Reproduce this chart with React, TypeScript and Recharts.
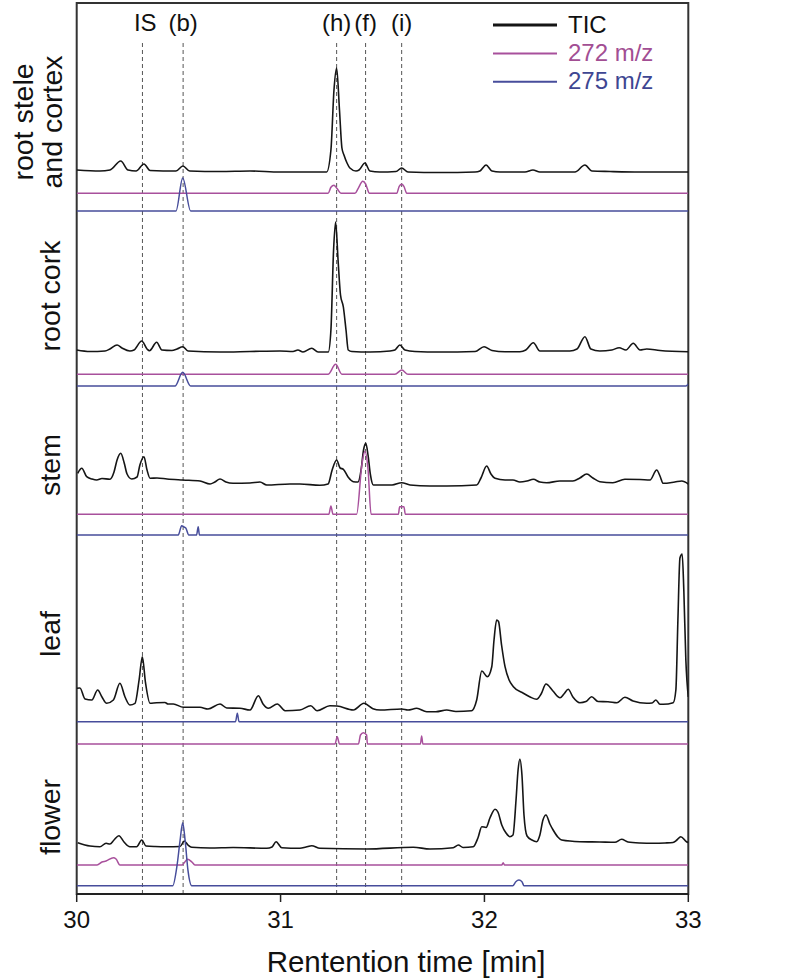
import React from 'react';
import { LineChart, Line, XAxis, YAxis, ReferenceLine, ReferenceArea, ReferenceDot } from 'recharts';

// retention time [min], intensity above trace baseline [a.u.]
const rootSteleTIC: [number, number][] = [
  [30.0, 1], [30.114, 0], [30.163, 1], [30.216, 10], [30.252, 1], [30.291, 0], [30.33, 7], [30.36, 0.5],
  [30.487, 0], [30.521, 5], [30.554, 0], [30.703, -0.5], [30.85, 0], [30.997, -1], [31.096, -1], [31.226, -1],
  [31.247, 21], [31.262, 81], [31.275, 103], [31.289, 61], [31.301, 23], [31.311, 16], [31.326, 8], [31.34, 3],
  [31.37, 0], [31.385, 1], [31.414, 8], [31.438, 0], [31.487, -1], [31.566, -0.5], [31.594, 3], [31.625, -1],
  [31.781, -1.5], [31.954, -1], [31.978, 0], [32.008, 6], [32.037, 0], [32.076, -1], [32.199, -1], [32.238, 1],
  [32.272, -1], [32.444, -1], [32.493, 6], [32.527, 0], [32.616, -0.5], [32.763, -1], [33.0, -1],
];
const rootStele272: [number, number][] = [
  [30.0, 0], [31.233, 0], [31.247, 6], [31.262, 8], [31.276, 5], [31.296, 0], [31.365, 0], [31.381, 5],
  [31.403, 12], [31.418, 9], [31.425, 5], [31.435, 0], [31.57, 0], [31.582, 7], [31.594, 9], [31.605, 7],
  [31.619, 0], [33.0, 0],
];
const rootStele275: [number, number][] = [
  [30.0, 0], [30.487, 0], [30.52, 33], [30.559, 0], [33.0, 0],
];

const rootCorkTIC: [number, number][] = [
  [30.0, 1], [30.065, -0.5], [30.139, 0], [30.163, 2], [30.198, 6], [30.222, 3], [30.261, 0], [30.281, 1],
  [30.319, 10], [30.345, 2], [30.357, 0.3], [30.392, 8.7], [30.418, 1], [30.467, 0.5], [30.492, 2], [30.52, 4.3],
  [30.546, 0], [30.703, -1], [30.85, -0.5], [30.997, 0], [31.061, -0.5], [31.085, 1], [31.11, -1], [31.153, 2.7],
  [31.184, -1], [31.234, -1], [31.247, 21], [31.26, 101], [31.27, 129], [31.282, 91], [31.294, 56], [31.308, 44],
  [31.321, 21], [31.332, 1], [31.35, -0.5], [31.439, -1], [31.537, 0], [31.561, 1], [31.585, 6], [31.61, 1],
  [31.659, -0.5], [31.781, -1], [31.954, -0.5], [31.998, 4.3], [32.037, 0.5], [32.101, -0.7], [32.174, -0.7],
  [32.203, 1], [32.24, 8.3], [32.272, 0], [32.419, 0], [32.454, 2], [32.493, 14.3], [32.522, 2], [32.566, 0],
  [32.625, 1], [32.661, 3.3], [32.694, 1], [32.73, 7.7], [32.763, 1], [32.796, 2], [32.861, 0.5], [33.0, -0.7],
];
const rootCork272: [number, number][] = [
  [30.0, 0], [31.233, 0], [31.27, 10], [31.301, 0], [31.561, 0], [31.595, 4.3], [31.625, 0], [33.0, 0],
];
const rootCork275: [number, number][] = [
  [30.0, 0], [30.482, 0], [30.52, 13.7], [30.559, 0], [32.988, 0], [33.0, 2],
];

const stemTIC: [number, number][] = [
  [30.005, 10.7], [30.025, 15.7], [30.049, 7.3], [30.075, 5], [30.098, 4], [30.124, 5.5], [30.163, 4.7],
  [30.183, 12], [30.198, 24], [30.216, 30.7], [30.233, 21], [30.247, 10], [30.27, 5], [30.296, 7], [30.31, 19],
  [30.33, 27.3], [30.345, 14], [30.36, 5.7], [30.394, 6], [30.443, 5], [30.521, 4], [30.605, 3], [30.654, 0],
  [30.678, 2], [30.703, 5], [30.732, 2], [30.767, 0.7], [30.85, 1], [30.899, 2], [30.932, -1], [31.046, 0],
  [31.095, 0], [31.193, -1.3], [31.233, 0], [31.253, 14], [31.275, 24], [31.292, 16], [31.308, 14.7],
  [31.331, 7], [31.357, 2.3], [31.38, 2], [31.395, 14], [31.407, 34], [31.418, 40.7], [31.429, 29],
  [31.441, 9], [31.455, -1], [31.488, -1], [31.547, -1], [31.594, 1.3], [31.635, -1], [31.733, -2],
  [31.815, -2], [31.962, -1], [31.983, 6], [32.011, 18], [32.032, 10], [32.052, 5.7], [32.101, 4], [32.14, 4],
  [32.174, 2], [32.209, 3], [32.24, 4.7], [32.272, 2], [32.305, 1.3], [32.37, 3], [32.434, 3], [32.468, 6],
  [32.502, 10], [32.532, 6], [32.566, 2.3], [32.63, 1.3], [32.689, 4.7], [32.763, 4.5], [32.812, 4],
  [32.845, 14], [32.861, 8], [32.877, 0.7], [32.934, 2], [32.968, 3], [33.0, 0],
];
const stem272: [number, number][] = [
  [30.0, 0], [31.237, 0], [31.247, 8.3], [31.257, 0], [31.373, 0], [31.399, 50], [31.414, 63], [31.429, 45],
  [31.444, 0], [31.578, 0], [31.584, 7.6], [31.605, 7.6], [31.612, 0], [33.0, 0],
];
const stem275: [number, number][] = [
  [30.0, 0], [30.498, 0], [30.515, 9.3], [30.526, 8], [30.535, 7], [30.55, 0], [30.588, 0], [30.596, 8.3],
  [30.602, 0], [33.0, 0],
];

const leafTIC: [number, number][] = [
  [30.0, 20.7], [30.016, 21], [30.041, 10], [30.074, 9], [30.103, 19], [30.124, 12], [30.147, 5.7], [30.18, 9],
  [30.212, 25.7], [30.237, 12], [30.261, 4], [30.286, 5.7], [30.306, 29], [30.322, 52.3], [30.337, 27],
  [30.36, 5.7], [30.392, 6.3], [30.433, 6.5], [30.448, 5], [30.474, 5], [30.523, 1.7], [30.605, 1.7],
  [30.644, 0], [30.703, 5], [30.736, 1], [30.801, 0.7], [30.85, -1], [30.891, 13.3], [30.914, 5], [30.94, 0.7],
  [30.984, 5], [31.022, -1.7], [31.095, -1], [31.148, 3.3], [31.179, -1.7], [31.242, 3.3], [31.277, 3],
  [31.357, -1], [31.409, 5.7], [31.453, 0.3], [31.488, -1], [31.594, 0], [31.625, -1], [31.668, 0.7],
  [31.717, -2.7], [31.762, -2.7], [31.815, -1], [31.86, -2.5], [31.937, -1.7], [31.962, 9], [31.987, 38],
  [32.014, 32.3], [32.036, 42.3], [32.047, 69], [32.06, 89], [32.069, 87.5], [32.084, 64], [32.101, 42.3],
  [32.121, 29], [32.142, 22.3], [32.191, 15.7], [32.224, 12], [32.256, 9.7], [32.278, 15], [32.302, 25],
  [32.336, 18], [32.371, 11.3], [32.39, 15], [32.411, 19.7], [32.434, 12], [32.468, 6.3], [32.498, 7.5],
  [32.526, 12.3], [32.557, 7.5], [32.606, 7.3], [32.65, 6.3], [32.689, 11.7], [32.729, 8], [32.796, 5.7],
  [32.822, 6], [32.841, 9], [32.861, 4.7], [32.877, 4.7], [32.926, 6.3], [32.939, 19], [32.949, 89],
  [32.959, 151], [32.97, 155], [32.978, 119], [32.988, 49], [33.0, 12],
];
const leaf275: [number, number][] = [
  [30.0, 0], [30.779, 0], [30.788, 8.4], [30.796, 0], [33.0, 0],
];
const leaf272: [number, number][] = [
  [30.0, 0], [31.267, 0], [31.278, 7.3], [31.289, 0], [31.382, 0], [31.392, 9], [31.406, 11.3], [31.422, 9],
  [31.426, 0], [31.686, 0], [31.692, 8], [31.698, 0], [33.0, 0],
];

const flowerTIC: [number, number][] = [
  [30.005, 5.3], [30.065, 2], [30.114, 1.3], [30.144, 4.7], [30.163, 4], [30.183, 8], [30.207, 12.3],
  [30.232, 6], [30.261, 1.3], [30.294, 1.3], [30.319, 8], [30.34, 2], [30.384, 1.5], [30.443, 1.3],
  [30.507, 1.5], [30.528, 7], [30.546, 3], [30.564, 0.7], [30.654, 0], [30.767, 0.5], [30.932, -0.3],
  [30.958, 1], [30.978, 6.3], [31.006, 0.3], [31.095, -0.3], [31.125, 1], [31.153, 2.3], [31.193, -0.3],
  [31.422, -1], [31.651, 0.7], [31.733, -1], [31.847, 0.3], [31.872, 3], [31.895, 0.5], [31.945, 1.3],
  [31.968, 10], [31.987, 21.3], [32.008, 20.5], [32.027, 30], [32.052, 38.7], [32.066, 36], [32.085, 23],
  [32.106, 15], [32.125, 11.3], [32.14, 13], [32.155, 48], [32.165, 78], [32.174, 88.7], [32.184, 73],
  [32.194, 33], [32.209, 12], [32.233, 8], [32.256, 6.3], [32.272, 13], [32.287, 28], [32.302, 33],
  [32.321, 24], [32.337, 18], [32.36, 11], [32.379, 8], [32.468, 6.3], [32.566, 6], [32.64, 5.7],
  [32.673, 8.7], [32.704, 6], [32.763, 5], [32.828, 4.7], [32.886, 5], [32.925, 5.5], [32.944, 8],
  [32.963, 11.3], [32.991, 6.3], [33.0, 5.5],
];
const flower272: [number, number][] = [
  [30.0, 0], [30.1, 0], [30.124, 3], [30.144, 4], [30.18, 7.3], [30.193, 6], [30.212, 0], [30.516, 0],
  [30.544, 5.7], [30.565, 3], [30.58, 0], [32.085, 0], [32.092, 2.3], [32.098, 0], [33.0, 0],
];
const flower275: [number, number][] = [
  [30.0, 0], [30.471, 0], [30.492, 20], [30.507, 45], [30.52, 63], [30.532, 45], [30.546, 15], [30.564, 0],
  [32.139, 0], [32.154, 4], [32.169, 5.7], [32.184, 4], [32.194, 0], [33.0, 0],
];

const TIME_TICKS = [30, 31, 32, 33];
const MARKER_NAMES = ['IS', '(b)', '(h)', '(f)', '(i)'];
const MARKER_TIMES = [30.3225, 30.522, 31.275, 31.417, 31.594];
const PANEL_NAMES = [['root stele', 'and cortex'], ['root cork'], ['stem'], ['leaf'], ['flower']];
const SERIES_NAMES = ['TIC', '272 m/z', '275 m/z'];
const X_TITLE = 'Rentention time [min]';

// vertical stacking offsets for each trace (a.u.)
const TRACE_OFFSETS = {
  rootSteleTIC: 723, rootStele272: 700.7, rootStele275: 683,
  rootCorkTIC: 543, rootCork272: 519.7, rootCork275: 508,
  stemTIC: 410, stem272: 379.7, stem275: 359,
  leafTIC: 185, leaf275: 172.3, leaf272: 150,
  flowerTIC: 46, flower272: 29, flower275: 8.3,
};

const BLACK = '#151515';
const MAGENTA = '#A8509C';
const BLUE = '#474D9B';
const FONT = '"Liberation Sans", Arial, Helvetica, sans-serif';

const traces: { key: string; data: [number, number][]; color: string; w: number }[] = [
  { key: 'rootSteleTIC', data: rootSteleTIC, color: BLACK, w: 1.6 },
  { key: 'rootStele272', data: rootStele272, color: MAGENTA, w: 1.5 },
  { key: 'rootStele275', data: rootStele275, color: BLUE, w: 1.5 },
  { key: 'rootCorkTIC', data: rootCorkTIC, color: BLACK, w: 1.6 },
  { key: 'rootCork272', data: rootCork272, color: MAGENTA, w: 1.5 },
  { key: 'rootCork275', data: rootCork275, color: BLUE, w: 1.5 },
  { key: 'stemTIC', data: stemTIC, color: BLACK, w: 1.6 },
  { key: 'stem272', data: stem272, color: MAGENTA, w: 1.5 },
  { key: 'stem275', data: stem275, color: BLUE, w: 1.5 },
  { key: 'leafTIC', data: leafTIC, color: BLACK, w: 1.6 },
  { key: 'leaf275', data: leaf275, color: BLUE, w: 1.5 },
  { key: 'leaf272', data: leaf272, color: MAGENTA, w: 1.5 },
  { key: 'flowerTIC', data: flowerTIC, color: BLACK, w: 1.6 },
  { key: 'flower272', data: flower272, color: MAGENTA, w: 1.5 },
  { key: 'flower275', data: flower275, color: BLUE, w: 1.5 },
];

const PANEL_LABEL_Y = [122, 296, 465, 634, 817];

export default function App() {
  return (
    <div style={{ position: 'absolute', left: 0, top: 0, width: 790, height: 980, background: '#fff' }}>
      <LineChart
        width={790}
        height={980}
        margin={{ top: 3, right: 101.7, bottom: 0, left: 76.7 }}
        style={{ fontFamily: FONT }}
      >
        <XAxis
          dataKey="t"
          type="number"
          domain={[30, 33]}
          ticks={TIME_TICKS}
          allowDataOverflow
          height={86}
          tickSize={8}
          tickMargin={9}
          tick={{ fontSize: 24, fill: '#111', fontFamily: FONT }}
          axisLine={{ stroke: '#222', strokeWidth: 2 }}
          tickLine={{ stroke: '#222', strokeWidth: 1.5 }}
        />
        <YAxis type="number" domain={[0, 891]} hide allowDataOverflow />
        {MARKER_TIMES.map((t, i) => (
          <ReferenceLine
            key={'m' + i}
            segment={[{ x: t, y: 0 }, { x: t, y: 852 }]}
            stroke="#555"
            strokeWidth={1}
            strokeDasharray="4 3"
          />
        ))}
        {traces.map((tr) => (
          <Line
            key={tr.key}
            data={tr.data.map(([t, h]) => ({ t, v: h + (TRACE_OFFSETS as any)[tr.key] }))}
            dataKey="v"
            type="monotoneX"
            stroke={tr.color}
            strokeWidth={tr.w}
            dot={false}
            activeDot={false}
            isAnimationActive={false}
          />
        ))}
        {MARKER_TIMES.map((t, i) => (
          <ReferenceDot
            key={'l' + i}
            x={t + (i === 0 ? 0.014 : 0)}
            y={872}
            r={0}
            fill="none"
            stroke="none"
            label={{ value: MARKER_NAMES[i], position: 'center', fontSize: 24, fill: '#111', fontFamily: FONT }}
          />
        ))}
        <ReferenceArea x1={30} x2={33} y1={0} y2={891} fill="none" stroke="#333" strokeWidth={2} />
      </LineChart>
      <svg
        width={790}
        height={980}
        style={{ position: 'absolute', left: 0, top: 0, pointerEvents: 'none', fontFamily: FONT }}
      >
        <text x={406} y={972} fontSize={29.5} fill="#111" textAnchor="middle">
          {X_TITLE}
        </text>
        {PANEL_NAMES.map((lines, i) =>
          lines.map((ln, j) => {
            const x = lines.length === 2 ? (j === 0 ? 33 : 62) : 60;
            const y = PANEL_LABEL_Y[i];
            return (
              <text
                key={i + '-' + j}
                x={x}
                y={y}
                fontSize={28.5}
                fill="#111"
                textAnchor="middle"
                transform={`rotate(-90 ${x} ${y})`}
              >
                {ln}
              </text>
            );
          })
        )}
        {SERIES_NAMES.map((name, i) => {
          const color = i === 0 ? BLACK : i === 1 ? MAGENTA : BLUE;
          const ly = 25 + i * 28.4;
          return (
            <g key={name}>
              <line x1={493} x2={557} y1={ly} y2={ly} stroke={color} strokeWidth={i === 0 ? 3 : 2} />
              <text x={568} y={ly + 7.5} fontSize={24} fill={i === 0 ? '#111' : i === 1 ? '#A24E93' : '#3E4692'}>
                {name}
              </text>
            </g>
          );
        })}
      </svg>
    </div>
  );
}
